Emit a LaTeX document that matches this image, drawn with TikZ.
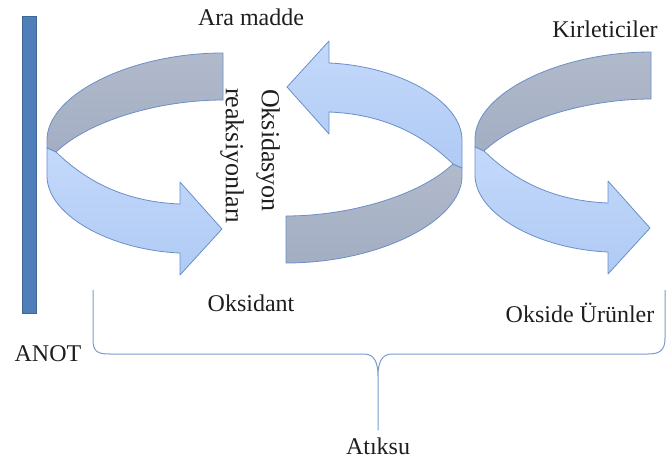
\documentclass[tikz,border=0pt]{standalone}
\usepackage{fontspec}
\setmainfont{Liberation Serif}
\usetikzlibrary{shapes.geometric}
\definecolor{bandblue}{HTML}{C4D9FB}
\definecolor{bandbluedark}{HTML}{AFCAF4}
\definecolor{bandgray}{HTML}{B1BACB}
\definecolor{bandgraydark}{HTML}{A3AEC3}
\definecolor{rim}{HTML}{6A8FC8}
\definecolor{anode}{HTML}{4F7FBA}
\definecolor{bracecol}{HTML}{7B9BCB}
\definecolor{ink}{HTML}{1E1E1E}
\tikzset{
  label/.style={font=\fontsize{24}{28}\selectfont, text=ink, inner sep=0pt},
  vlabel/.style={font=\fontsize{26}{30}\selectfont, text=ink, inner sep=0pt, rotate=-90, anchor=west},
  backband/.style={draw=rim, line width=0.8pt, top color=bandgray, bottom color=bandgraydark, line join=round},
  frontband/.style={draw=rim, line width=0.8pt, top color=bandblue, bottom color=bandbluedark, line join=round},
  % ribbon shaped circular arrow: back half in grey, front half in blue with the head
  ribbon/.pic={
    \path[backband] (223,53) .. controls (130,53) and (47,95) .. (47,140)
      -- (47,148) -- (56,152) .. controls (90,120) and (160,100) .. (223,100) -- cycle;
    \path[frontband] (47,148) -- (56,152) .. controls (90,185) and (130,202) .. (180,204)
      -- (180,182) -- (222,229) -- (180,275) -- (180,253)
      .. controls (110,250) and (47,215) .. (47,176) -- cycle;
  }
}
\begin{document}
\begin{tikzpicture}[x=1pt,y=-1pt]
\useasboundingbox (0,0) rectangle (669,466);

% anode plate
\fill[anode, draw=anode!80!black, line width=0.4pt] (22,16) rectangle (36,313);

% the three ribbon arrows
\pic at (0,0) {ribbon};
\pic[rotate=180] at (509,316) {ribbon};
\pic at (428,-1) {ribbon};

% brace spanning the wastewater
\coordinate (bl) at (93,290);
\coordinate (br) at (665,290);
\coordinate (btip) at (378,430);
\draw[bracecol, line width=1pt, line join=round]
  (bl) -- (93,340) .. controls (93,352) and (98,354) .. (110,354)
  -- (364,354) .. controls (374,354) and (378,362) .. (378,376) -- (btip)
  -- (378,376) .. controls (378,362) and (382,354) .. (392,354)
  -- (648,354) .. controls (660,354) and (665,350) .. (665,338) -- (br);

% labels
\node[label] (ara) at (251,17) {Ara madde};
\node[label] (kir) at (605,29) {Kirleticiler};
\node[label] (oks) at (251,303) {Oksidant};
\node[label] (urun) at (580,313) {Okside Ürünler};
\node[label] (anot) at (48,354) {ANOT};
\node[label] (atik) at (378,446) {Atıksu};
\node[vlabel] (oksi) at (268,89) {Oksidasyon};
\node[vlabel] (reak) at (232,88) {reaksiyonları};
\end{tikzpicture}
\end{document}
